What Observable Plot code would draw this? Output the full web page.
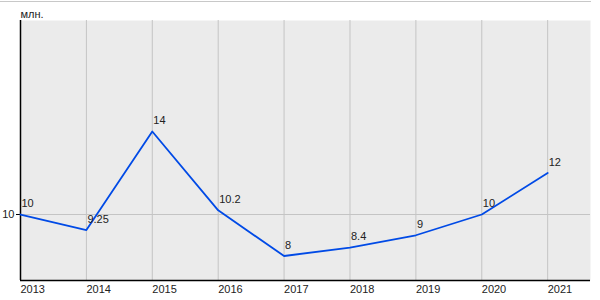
<!DOCTYPE html>
<html>
<head>
<meta charset="utf-8">
<script src="https://cdn.jsdelivr.net/npm/d3@7"></script>
<script src="https://cdn.jsdelivr.net/npm/@observablehq/plot@0.6"></script>
<style>
  html, body { margin: 0; padding: 0; background: #fff; }
  #wrap { position: relative; width: 600px; height: 300px; }
  #topline { position: absolute; left: 0; top: 1px; width: 591px; height: 0; border-top: 1px solid #c8c8c8; }
</style>
</head>
<body>
<div id="wrap"><div id="topline"></div></div>
<script>
const years = [2013, 2014, 2015, 2016, 2017, 2018, 2019, 2020, 2021];
const values = [10, 9.25, 14, 10.2, 8, 8.4, 9, 10, 12];
const labels = ["10", "9.25", "14", "10.2", "8", "8.4", "9", "10", "12"];
const yTicks = [10];
const unitLabel = "млн.";
const xDomain = [2013, 2021.65];
const yDomain = [6.82, 19.35];

const data = years.map((y, i) => ({year: y, value: values[i], label: labels[i]}));

const chart = Plot.plot({
  width: 600,
  height: 300,
  marginLeft: 20,
  marginTop: 20,
  marginBottom: 20,
  marginRight: 10,
  style: {background: "transparent", fontFamily: "'Liberation Sans', Arial, sans-serif", fontSize: "11px", color: "#222"},
  x: {domain: xDomain, axis: null},
  y: {domain: yDomain, axis: null},
  marks: [
    Plot.frame({fill: "#ebebeb", stroke: null}),
    Plot.gridX(years, {stroke: "#c4c4c4", strokeOpacity: 1}),
    Plot.gridY(yTicks, {stroke: "#c4c4c4", strokeOpacity: 1}),
    Plot.ruleX([xDomain[0]], {stroke: "#000", strokeWidth: 1.5}),
    Plot.ruleY([yDomain[0]], {stroke: "#000", strokeWidth: 1.5}),
    Plot.axisX(years, {tickSize: 0, tickPadding: 5, textAnchor: "start", tickFormat: d => String(d), fill: "#222", label: null}),
    Plot.axisY(yTicks, {tickSize: 4, tickPadding: 2, stroke: "#000", fill: "#222", label: null}),
    Plot.line(data, {x: "year", y: "value", stroke: "#004ae6", strokeWidth: 1.8}),
    Plot.text(data, {x: "year", y: "value", text: "label", textAnchor: "start", dx: 1, dy: -11, fill: "#222"}),
    Plot.text([unitLabel], {frameAnchor: "top-left", text: d => d, textAnchor: "start", dy: -10, fill: "#222"})
  ]
});
document.getElementById("wrap").appendChild(chart);
</script>
</body>
</html>
